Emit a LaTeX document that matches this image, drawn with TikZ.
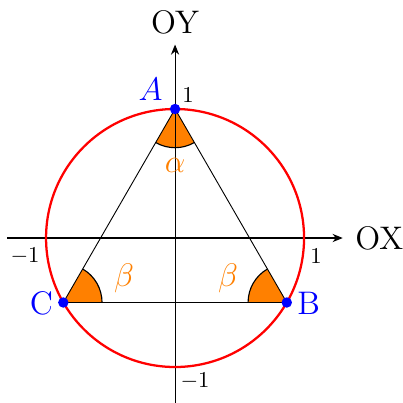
\documentclass[tikz,border=0pt]{standalone}
\usetikzlibrary{arrows.meta}
\begin{document}
\begin{tikzpicture}[x=2cm,y=2cm,
  axis/.style={-{Stealth[length=4.5pt,width=3.6pt]}, line width=0.45pt},
  tri/.style={line width=0.4pt},
  dot/.style={circle, fill=blue, inner sep=0pt, minimum size=4.6pt},
  wedgefill/.style={fill=orange},
  wedgearc/.style={draw=black, line width=0.5pt},
  lbl/.style={text=blue, font=\Large},
  ang/.style={text=orange, font=\Large},
  axlbl/.style={font=\Large},
  tick/.style={font=\normalsize}]
\useasboundingbox (-1.357,-1.279) rectangle (1.760,1.845);
\coordinate (O) at (0,0);
\coordinate (xl) at (-1.30,0);
\coordinate (xr) at (1.30,0);
\coordinate (yb) at (0,-1.30);
\coordinate (yt) at (0,1.50);
\coordinate (A) at (90:1);
\coordinate (B) at (-30:1);
\coordinate (C) at (210:1);
% wedges
\fill[wedgefill] (A) -- ++(-120:0.3) arc[start angle=-120,end angle=-60,radius=0.3] -- cycle;
\fill[wedgefill] (B) -- ++(120:0.3) arc[start angle=120,end angle=180,radius=0.3] -- cycle;
\fill[wedgefill] (C) -- ++(0:0.3) arc[start angle=0,end angle=60,radius=0.3] -- cycle;
\draw[wedgearc] (A) ++(-120:0.3) arc[start angle=-120,end angle=-60,radius=0.3];
\draw[wedgearc] (B) ++(120:0.3) arc[start angle=120,end angle=180,radius=0.3];
\draw[wedgearc] (C) ++(0:0.3) arc[start angle=0,end angle=60,radius=0.3];
% axes
\draw[axis] (xl) -- (xr) node[axlbl, right, xshift=2pt] (ox) {OX};
\draw[axis] (yb) -- (yt) node[axlbl, above, yshift=1pt] (oy) {OY};
% triangle
\draw[tri] (A) -- (B) -- (C) -- cycle;
% circle
\draw[red, line width=1pt] (O) circle[radius=1];
% points
\node[dot] (pA) at (A) {};
\node[dot] (pB) at (B) {};
\node[dot] (pC) at (C) {};
\path (A) ++(-0.19,0.15) node[lbl] (lA) {$A$};
\path (B) ++(0.17,-0.005) node[lbl] (lB) {B};
\path (C) ++(-0.17,-0.005) node[lbl] (lC) {C};
% angle labels
\path (A) ++(0,-0.44) node[ang] (al) {$\alpha$};
\path (C) ++(0.47,0.19) node[ang] (b1) {$\beta$};
\path (B) ++(-0.455,0.19) node[ang] (b2) {$\beta$};
% tick labels
\path (0,1) ++(0.10,0.11) node[tick] (t1) {1};
\path (0,-1) ++(0.155,-0.11) node[tick] (t2) {$-1$};
\path (-1,0) ++(-0.163,-0.14) node[tick] (t3) {$-1$};
\path (1,0) ++(0.093,-0.14) node[tick] (t4) {1};
\end{tikzpicture}
\end{document}
